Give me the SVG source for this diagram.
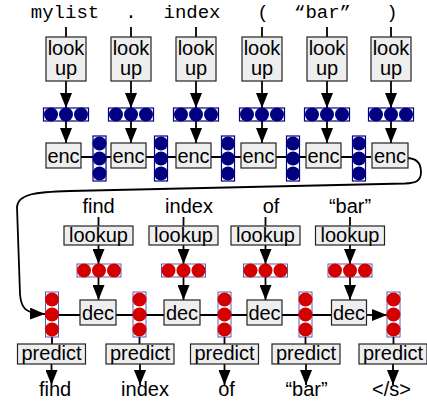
<svg xmlns="http://www.w3.org/2000/svg" width="427" height="404" viewBox="0 0 427 404">
<defs>
<style>
.box{fill:#eeeeee;stroke:#222;stroke-width:1.2}
.t{font-family:"Liberation Sans",Arial,sans-serif;font-size:20px;text-anchor:middle;fill:#000}
.m{font-family:"Liberation Mono","Courier New",monospace;font-size:19px;text-anchor:middle;fill:#000}
.ln{stroke:#000;stroke-width:1.8;fill:none}
.bv{fill:#fff;stroke:#000080;stroke-width:1.2}
.bc{fill:#000080}
.rv{fill:#fff;stroke:#3333aa;stroke-width:0.8}
.rc{fill:#d40000}
</style>
<marker id="ah" markerUnits="userSpaceOnUse" markerWidth="15" markerHeight="12" refX="15" refY="6" orient="auto">
<path d="M0,0 L15,6 L0,12 Z" fill="#000"/>
</marker>
<g id="bh"><rect class="bv" x="-22.5" y="0" width="45" height="13"/><circle class="bc" cx="-15" cy="6.5" r="7"/><circle class="bc" cx="0" cy="6.5" r="7"/><circle class="bc" cx="15" cy="6.5" r="7"/></g>
<g id="bvv"><rect class="bv" x="-6.5" y="0" width="13" height="45"/><circle class="bc" cx="0" cy="7.5" r="7"/><circle class="bc" cx="0" cy="22.5" r="7"/><circle class="bc" cx="0" cy="37.5" r="7"/></g>
<g id="rh"><rect class="rv" x="-22" y="0" width="44" height="13"/><circle class="rc" cx="-15" cy="6.5" r="7"/><circle class="rc" cx="0" cy="6.5" r="7"/><circle class="rc" cx="15" cy="6.5" r="7"/></g>
<g id="rvv"><rect class="rv" x="-6.5" y="0" width="13" height="45"/><circle class="rc" cx="0" cy="7.5" r="7"/><circle class="rc" cx="0" cy="22.5" r="7"/><circle class="rc" cx="0" cy="37.5" r="7"/></g>
</defs>
<rect width="427" height="404" fill="#fff"/>

<g id="connectors">
<!-- encoder top lines -->
<path class="ln" d="M66,27V37 M131,27V37 M196,27V37 M262,27V37 M327,27V37 M391,27V37"/>
<!-- lookup to vector -->
<line class="ln" x1="66" y1="81" x2="66" y2="108" marker-end="url(#ah)"/>
<line class="ln" x1="131" y1="81" x2="131" y2="108" marker-end="url(#ah)"/>
<line class="ln" x1="196" y1="81" x2="196" y2="108" marker-end="url(#ah)"/>
<line class="ln" x1="262" y1="81" x2="262" y2="108" marker-end="url(#ah)"/>
<line class="ln" x1="327" y1="81" x2="327" y2="108" marker-end="url(#ah)"/>
<line class="ln" x1="391" y1="81" x2="391" y2="108" marker-end="url(#ah)"/>
<!-- vector to enc -->
<line class="ln" x1="66" y1="121" x2="66" y2="143" marker-end="url(#ah)"/>
<line class="ln" x1="131" y1="121" x2="131" y2="143" marker-end="url(#ah)"/>
<line class="ln" x1="196" y1="121" x2="196" y2="143" marker-end="url(#ah)"/>
<line class="ln" x1="262" y1="121" x2="262" y2="143" marker-end="url(#ah)"/>
<line class="ln" x1="327" y1="121" x2="327" y2="143" marker-end="url(#ah)"/>
<line class="ln" x1="391" y1="121" x2="391" y2="143" marker-end="url(#ah)"/>
<!-- enc chain -->
<line class="ln" x1="81" y1="157" x2="371" y2="157"/>
<!-- curve encoder to decoder -->
<path class="ln" d="M406,158 C417,158 421,164 421,172 C421,181 416,183 405,183.5 L70,191 C35,192 18,194 17,207 L20,294 C21,308 25,313.5 45,314" marker-end="url(#ah)"/>
<!-- decoder top lines -->
<path class="ln" d="M98.5,217V226 M183.5,217V226 M265.5,217V226 M350,217V226"/>
<line class="ln" x1="98.5" y1="245" x2="98.5" y2="264" marker-end="url(#ah)"/>
<line class="ln" x1="183.5" y1="245" x2="183.5" y2="264" marker-end="url(#ah)"/>
<line class="ln" x1="265.5" y1="245" x2="265.5" y2="264" marker-end="url(#ah)"/>
<line class="ln" x1="350" y1="245" x2="350" y2="264" marker-end="url(#ah)"/>
<line class="ln" x1="98.5" y1="277" x2="98.5" y2="300" marker-end="url(#ah)"/>
<line class="ln" x1="183.5" y1="277" x2="183.5" y2="300" marker-end="url(#ah)"/>
<line class="ln" x1="265.5" y1="277" x2="265.5" y2="300" marker-end="url(#ah)"/>
<line class="ln" x1="350" y1="277" x2="350" y2="300" marker-end="url(#ah)"/>
<!-- dec chain -->
<line class="ln" x1="52" y1="315" x2="367" y2="315"/>
<line class="ln" x1="366" y1="315" x2="387" y2="315" marker-end="url(#ah)"/>
<!-- vector to predict -->
<path class="ln" d="M52,337V344 M139.5,337V344 M224.5,337V344 M305.5,337V344 M393.5,337V344"/>
<!-- predict to output -->
<line class="ln" x1="51.5" y1="364" x2="51.5" y2="385" marker-end="url(#ah)"/>
<line class="ln" x1="140" y1="364" x2="140" y2="385" marker-end="url(#ah)"/>
<line class="ln" x1="224.5" y1="364" x2="224.5" y2="385" marker-end="url(#ah)"/>
<line class="ln" x1="306" y1="364" x2="306" y2="385" marker-end="url(#ah)"/>
<line class="ln" x1="393" y1="364" x2="393" y2="385" marker-end="url(#ah)"/>
</g>

<!-- encoder input tokens -->
<g id="tokens">
<text class="m" x="65" y="18">mylist</text>
<text class="m" x="131" y="18">.</text>
<text class="m" x="192" y="18">index</text>
<text class="m" x="263" y="18">(</text>
<text class="m" x="322.5" y="18">“bar”</text>
<text class="m" x="392" y="18">)</text>
</g>

<g id="enc-lookup1"><rect class="box" x="46" y="37" width="40" height="44"/><text class="t" x="66" y="55">look</text><text class="t" x="66" y="75">up</text></g>
<g id="enc-lookup2"><rect class="box" x="111" y="37" width="40" height="44"/><text class="t" x="131" y="55">look</text><text class="t" x="131" y="75">up</text></g>
<g id="enc-lookup3"><rect class="box" x="176" y="37" width="40" height="44"/><text class="t" x="196" y="55">look</text><text class="t" x="196" y="75">up</text></g>
<g id="enc-lookup4"><rect class="box" x="242" y="37" width="40" height="44"/><text class="t" x="262" y="55">look</text><text class="t" x="262" y="75">up</text></g>
<g id="enc-lookup5"><rect class="box" x="307" y="37" width="40" height="44"/><text class="t" x="327" y="55">look</text><text class="t" x="327" y="75">up</text></g>
<g id="enc-lookup6"><rect class="box" x="371" y="37" width="40" height="44"/><text class="t" x="391" y="55">look</text><text class="t" x="391" y="75">up</text></g>

<g id="emb1"><use href="#bh" x="66" y="108"/></g>
<g id="emb2"><use href="#bh" x="131" y="108"/></g>
<g id="emb3"><use href="#bh" x="196" y="108"/></g>
<g id="emb4"><use href="#bh" x="262" y="108"/></g>
<g id="emb5"><use href="#bh" x="327" y="108"/></g>
<g id="emb6"><use href="#bh" x="391" y="108"/></g>

<g id="enc1"><rect class="box" x="46" y="143" width="35" height="25"/><text class="t" x="63.5" y="163">enc</text></g>
<g id="enc2"><rect class="box" x="111" y="143" width="35" height="25"/><text class="t" x="128.5" y="163">enc</text></g>
<g id="enc3"><rect class="box" x="176" y="143" width="35" height="25"/><text class="t" x="193.5" y="163">enc</text></g>
<g id="enc4"><rect class="box" x="241" y="143" width="35" height="25"/><text class="t" x="258.5" y="163">enc</text></g>
<g id="enc5"><rect class="box" x="306" y="143" width="35" height="25"/><text class="t" x="323.5" y="163">enc</text></g>
<g id="enc6"><rect class="box" x="372" y="143" width="36" height="25"/><text class="t" x="390" y="163">enc</text></g>

<g id="hid1"><use href="#bvv" x="99.5" y="136"/></g>
<g id="hid2"><use href="#bvv" x="161" y="136"/></g>
<g id="hid3"><use href="#bvv" x="228" y="136"/></g>
<g id="hid4"><use href="#bvv" x="293" y="136"/></g>
<g id="hid5"><use href="#bvv" x="359" y="136"/></g>

<!-- decoder -->
<g id="dec-words">
<text class="t" x="98.5" y="213">find</text>
<text class="t" x="189" y="213">index</text>
<text class="t" x="271" y="213">of</text>
<text class="t" x="350" y="213">“bar”</text>
</g>

<g id="dec-lookup1"><rect class="box" x="64" y="226" width="69" height="19"/><text class="t" x="98.5" y="242">lookup</text></g>
<g id="dec-lookup2"><rect class="box" x="149" y="226" width="69" height="19"/><text class="t" x="183.5" y="242">lookup</text></g>
<g id="dec-lookup3"><rect class="box" x="231" y="226" width="69" height="19"/><text class="t" x="265.5" y="242">lookup</text></g>
<g id="dec-lookup4"><rect class="box" x="315.5" y="226" width="69" height="19"/><text class="t" x="350" y="242">lookup</text></g>

<g id="demb1"><use href="#rh" x="99" y="264"/></g>
<g id="demb2"><use href="#rh" x="183.5" y="264"/></g>
<g id="demb3"><use href="#rh" x="265.5" y="264"/></g>
<g id="demb4"><use href="#rh" x="350" y="264"/></g>

<g id="dec1"><rect class="box" x="80" y="300" width="36" height="25"/><text class="t" x="98" y="320">dec</text></g>
<g id="dec2"><rect class="box" x="164" y="300" width="36" height="25"/><text class="t" x="182" y="320">dec</text></g>
<g id="dec3"><rect class="box" x="247" y="300" width="35" height="25"/><text class="t" x="264.5" y="320">dec</text></g>
<g id="dec4"><rect class="box" x="331.5" y="300" width="35" height="25"/><text class="t" x="349" y="320">dec</text></g>

<g id="dhid1"><use href="#rvv" x="52" y="292"/></g>
<g id="dhid2"><use href="#rvv" x="139.5" y="292"/></g>
<g id="dhid3"><use href="#rvv" x="224.5" y="292"/></g>
<g id="dhid4"><use href="#rvv" x="305.5" y="292"/></g>
<g id="dhid5"><use href="#rvv" x="393.5" y="292"/></g>

<g id="predict1"><rect class="box" x="17.5" y="344" width="68" height="20"/><text class="t" x="51.5" y="360">predict</text></g>
<g id="predict2"><rect class="box" x="106" y="344" width="68" height="20"/><text class="t" x="140" y="360">predict</text></g>
<g id="predict3"><rect class="box" x="190.5" y="344" width="68" height="20"/><text class="t" x="224.5" y="360">predict</text></g>
<g id="predict4"><rect class="box" x="272" y="344" width="68" height="20"/><text class="t" x="306" y="360">predict</text></g>
<g id="predict5"><rect class="box" x="359" y="344" width="68" height="20"/><text class="t" x="393" y="360">predict</text></g>

<g id="outputs">
<text class="t" x="55" y="396">find</text>
<text class="t" x="145" y="396">index</text>
<text class="t" x="226.5" y="396">of</text>
<text class="t" x="306.5" y="396">“bar”</text>
<text class="t" x="391.5" y="396">&lt;/s&gt;</text>
</g>
</svg>
